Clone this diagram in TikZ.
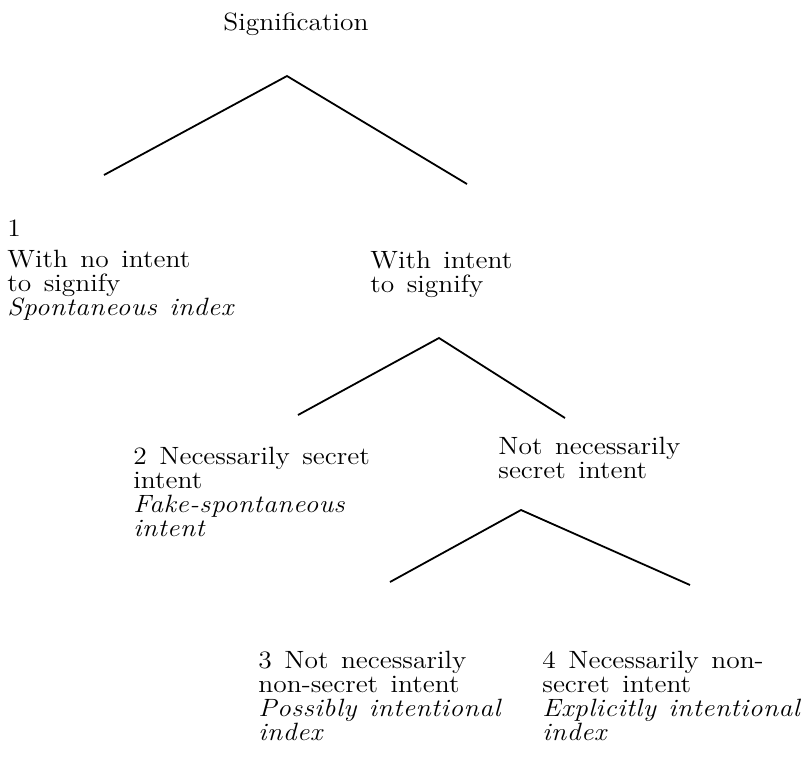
\documentclass[tikz,border=0pt]{standalone}
\usepackage{fontspec}
\setmainfont{Latin Modern Roman}[FakeStretch=1.1, ItalicFeatures={LetterSpace=2}]
\newcommand\labelfont{\fontsize{12.5}{12}\selectfont\setlength{\spaceskip}{0.5em}}
\tikzset{
x=0.5pt, y=-0.5pt, % one unit is one pixel of the page
every node/.style={inner sep=0pt, anchor=base west, align=left, font=\labelfont}, % text sits on its last baseline
branch/.style={line width=0.9pt, line join=miter}, % the two legs of a split
}

\begin{document}
\begin{tikzpicture}
\useasboundingbox (0,0) rectangle (807,762);
\node (sig) at (223,30) {Signification};
\node (nointent) at (7,315) {1\\[3.5pt]With no intent\\to signify\\\textit{Spontaneous index}};
\node (intent) at (370,292) {With intent\\to signify};
\node (secret) at (133,536) {2 Necessarily secret\\intent\\\textit{Fake-spontaneous}\\\textit{intent}};
\node (notsecret) at (498,478) {Not necessarily\\secret intent};
\node (possibly) at (258,740) {3 Not necessarily\\non-secret intent\\\textit{Possibly intentional}\\\textit{index}};
\node (explicitly) at (542,740) {4 Necessarily non-\\secret intent\\\textit{Explicitly intentional}\\\textit{index}};
\coordinate (sig apex) at (287,76);
\coordinate (sig l) at (104,175);
\coordinate (sig r) at (467,184);
\coordinate (intent apex) at (439,338);
\coordinate (intent l) at (298,415);
\coordinate (intent r) at (565,418);
\coordinate (notsecret apex) at (521,510);
\coordinate (notsecret l) at (390,582);
\coordinate (notsecret r) at (690,585);
\draw[branch] (sig l) -- (sig apex) -- (sig r);
\draw[branch] (intent l) -- (intent apex) -- (intent r);
\draw[branch] (notsecret l) -- (notsecret apex) -- (notsecret r);
\end{tikzpicture}
\end{document}
